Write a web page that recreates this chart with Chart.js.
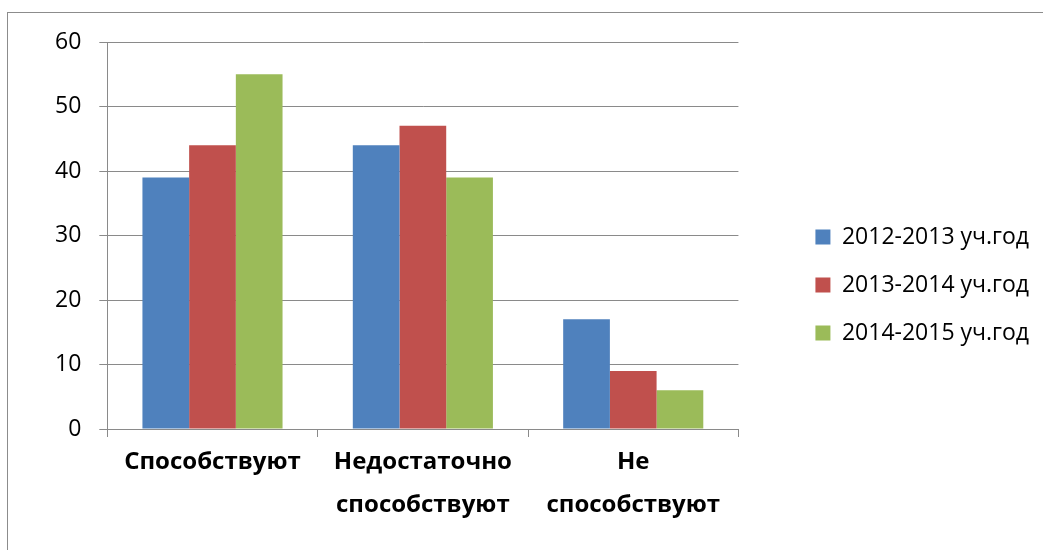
<!DOCTYPE html>
<html>
<head>
<meta charset="utf-8">
<script src="https://cdn.jsdelivr.net/npm/chart.js@4"></script>
<style>
	html, body { margin: 0; padding: 0; background: #fff; overflow: hidden; }
	#wrap { position: relative; width: 1043px; height: 550px; }
	#frame { position: absolute; left: 7px; top: 12px; width: 1100px; height: 600px;
		border-left: 1px solid #8c8c8c; border-top: 1px solid #8c8c8c; }
	#mycanvas { position: absolute; left: 0; top: 0; }
</style>
</head>
<body>
<div id="wrap">
	<div id="frame"></div>
	<canvas id="mycanvas" width="1043" height="550"></canvas>
</div>
<script>
var categories = ["Способствуют", ["Недостаточно", "способствуют"], ["Не", "способствуют"]];
var seriesNames = ["2012-2013 уч.год", "2013-2014 уч.год", "2014-2015 уч.год"];
var values2012 = [39, 44, 17];
var values2013 = [44, 47, 9];
var values2014 = [55, 39, 6];
var colors = ["#4F81BD", "#C0504D", "#9BBB59"];

var fontFamily = "'Open Sans', 'Noto Sans', sans-serif";
var gridColor = "#8a8a8a";

var chartdata = {
	labels: categories,
	datasets: [
		{ label: seriesNames[0], backgroundColor: colors[0], data: values2012 },
		{ label: seriesNames[1], backgroundColor: colors[1], data: values2013 },
		{ label: seriesNames[2], backgroundColor: colors[2], data: values2014 }
	]
};

var ctx = document.getElementById("mycanvas");

var BarGraph = new Chart(ctx, {
	type: 'bar',
	data: chartdata,
	options: {
		responsive: false,
		animation: false,
		datasets: {
			bar: { barPercentage: 1, categoryPercentage: 0.666, borderWidth: 0 }
		},
		layout: { padding: { left: 37, top: 42, bottom: 22, right: 4 } },
		plugins: {
			tooltip: { enabled: false },
			legend: {
				position: 'right',
				maxWidth: 320,
				labels: {
					boxWidth: 15,
					boxHeight: 15,
					padding: 25,
					color: '#000',
					font: { family: fontFamily, size: 23 }
				}
			}
		},
		scales: {
			x: {
				grid: { offset: true, drawOnChartArea: false, drawTicks: true, tickLength: 8, color: gridColor },
				border: { color: gridColor },
				ticks: {
					color: '#000',
					padding: 4,
					font: { family: fontFamily, size: 24, weight: 'bold', lineHeight: '43px' }
				},
				afterFit: function(scale) { scale.height = 99; }
			},
			y: {
				min: 0,
				max: 60,
				grid: { color: gridColor, tickLength: 8 },
				border: { color: gridColor },
				ticks: {
					stepSize: 10,
					color: '#000',
					padding: 18,
					font: { family: fontFamily, size: 23 }
				}
			},
			gap: {
				position: 'right',
				display: true,
				grid: { display: false },
				border: { display: false },
				ticks: { display: false },
				afterFit: function(scale) { scale.width = 52; }
			}
		}
	}
});
</script>
</body>
</html>
